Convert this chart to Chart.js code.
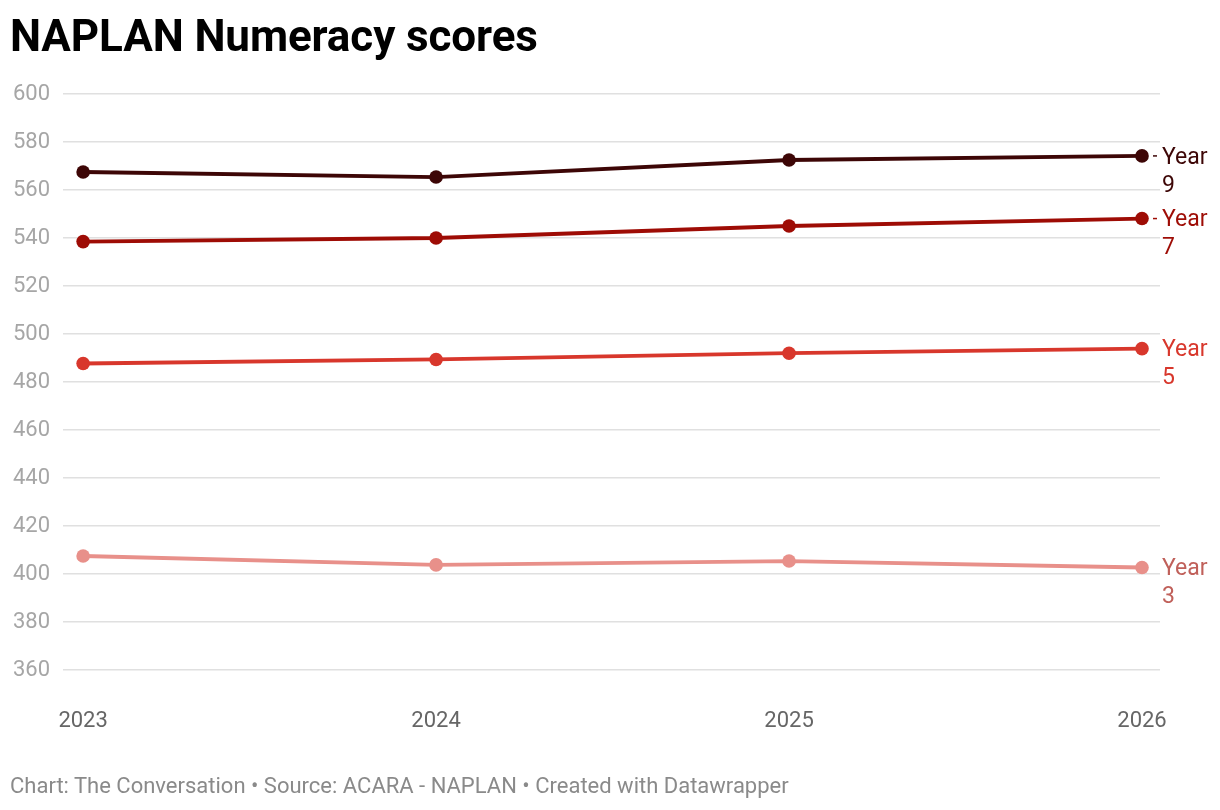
<!DOCTYPE html>
<html><head><meta charset="utf-8">
<script src="https://cdn.jsdelivr.net/npm/chart.js@4"></script>
<style>
html,body{margin:0;padding:0;background:#fff;width:1220px;height:810px;overflow:hidden;font-family:Roboto,sans-serif;}
#title{position:absolute;left:10px;top:10px;font-size:44px;font-weight:700;color:#000;letter-spacing:-0.1px;line-height:52px;}
#foot{position:absolute;left:10px;top:772px;font-size:22px;color:#8a8a8a;line-height:28px;}
#wrap{position:absolute;left:0;top:0;width:1220px;height:810px;}
</style></head>
<body>
<div id="wrap"><canvas id="c" width="1220" height="810"></canvas></div>
<div id="title">NAPLAN Numeracy scores</div>
<div id="foot">Chart: The Conversation • Source: ACARA - NAPLAN • Created with Datawrapper</div>
<script>
const years = [2023, 2024, 2025, 2026];
const year9 = [567.5, 565.4, 572.5, 574.2];
const year7 = [538.5, 540.0, 545.0, 548.1];
const year5 = [487.7, 489.4, 492.0, 493.9];
const year3 = [407.5, 403.8, 405.4, 402.7];
const seriesNames = ["Year 9", "Year 7", "Year 5", "Year 3"];
const yTicks = [360, 380, 400, 420, 440, 460, 480, 500, 520, 540, 560, 580, 600];

const lineColors = ["#3d0606", "#9e0c05", "#d8372c", "#e8908a"];
const labelColors = ["#3d0606", "#9e0c05", "#d8372c", "#c0605a"];
const showDash = [true, true, false, false];
const allData = [year9, year7, year5, year3];

const datasets = allData.map((arr, i) => ({
  label: seriesNames[i],
  data: arr.map((v, j) => ({x: years[j], y: v})),
  borderColor: lineColors[i],
  backgroundColor: lineColors[i],
  borderWidth: 3.8,
  pointRadius: 6.8,
  pointHoverRadius: 6.8,
  pointBorderWidth: 0,
  tension: 0
}));

const endLabels = {
  id: 'endLabels',
  afterDatasetsDraw(chart) {
    const ctx = chart.ctx;
    ctx.save();
    ctx.font = '23px Roboto';
    ctx.textBaseline = 'middle';
    ctx.textAlign = 'left';
    chart.data.datasets.forEach((ds, i) => {
      const meta = chart.getDatasetMeta(i);
      const pt = meta.data[meta.data.length - 1];
      const parts = seriesNames[i].split(' ');
      ctx.fillStyle = labelColors[i];
      if (showDash[i]) {
        ctx.strokeStyle = labelColors[i];
        ctx.lineWidth = 1.5;
        ctx.beginPath();
        ctx.moveTo(pt.x + 11, pt.y);
        ctx.lineTo(pt.x + 15, pt.y);
        ctx.stroke();
      }
      ctx.fillText(parts[0], pt.x + 20, pt.y + 2);
      ctx.fillText(parts[1], pt.x + 20, pt.y + 30);
    });
    ctx.restore();
  }
};

new Chart(document.getElementById('c'), {
  type: 'line',
  data: { datasets },
  plugins: [endLabels],
  options: {
    responsive: false,
    animation: false,
    devicePixelRatio: 1,
    layout: { padding: { top: 94, right: 60, left: 0, bottom: 0 } },
    plugins: { legend: { display: false }, title: { display: false }, tooltip: { enabled: false } },
    scales: {
      x: {
        type: 'linear',
        min: 2022.943,
        max: 2026.051,
        afterBuildTicks(scale) { scale.ticks = years.map(v => ({value: v})); },
        afterFit(scale) { scale.height = 140; },
        grid: { display: false, drawTicks: false },
        border: { display: false },
        ticks: { padding: 38, color: '#666', font: { family: 'Roboto', size: 22 }, callback: v => String(v), maxRotation: 0, autoSkip: false }
      },
      y: {
        min: 360,
        max: 600,
        afterBuildTicks(scale) { scale.ticks = yTicks.map(v => ({value: v})); },
        afterFit(scale) { scale.width = 63; },
        grid: { color: '#e0e0e0', lineWidth: 1.5, drawTicks: false },
        border: { display: false },
        ticks: { padding: 13, color: '#a6a6a6', font: { family: 'Roboto', size: 22 } }
      }
    }
  }
});
</script>
</body></html>
